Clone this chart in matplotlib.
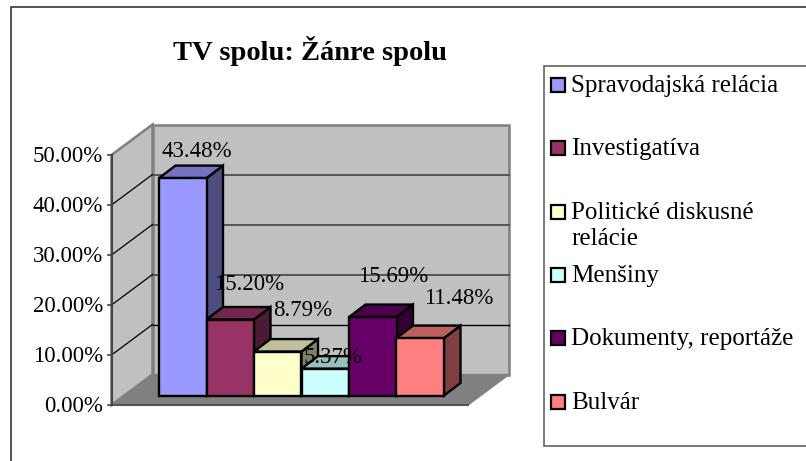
import matplotlib
matplotlib.use("Agg")
import matplotlib.pyplot as plt
from matplotlib.patches import Polygon, Rectangle

plt.rcParams['font.family'] = ['Liberation Serif', 'DejaVu Serif']

W, H = 806, 461

categories = ['Spravodajská relácia', 'Investigatíva', 'Politické diskusné\nrelácie',
              'Menšiny', 'Dokumenty, reportáže', 'Bulvár']
values = [43.48, 15.20, 8.79, 5.37, 15.69, 11.48]
labels = ['43.48%', '15.20%', '8.79%', '5.37%', '15.69%', '11.48%']
y_ticks = [0, 10, 20, 30, 40, 50]
y_tick_labels = ['0.00%', '10.00%', '20.00%', '30.00%', '40.00%', '50.00%']

front = ['#9999FF', '#993366', '#FFFFCC', '#CCFFFF', '#660066', '#FF8080']
top = ['#7373BF', '#73264D', '#BFBF99', '#99BFBF', '#4D004D', '#BF6060']
side = ['#4D4D80', '#4D1A33', '#808066', '#668080', '#330033', '#804040']

# pixel helper for things outside the plot
def px(x, y):
    return x / W, 1 - y / H

fig = plt.figure(figsize=(W / 100, H / 100), dpi=100, facecolor='white')

# the axes is the front plane of the 3d box: 111..468 px across, 405..155 px down
ax = fig.add_axes([111.5 / W, 1 - 405 / H, (468 - 111.5) / W, 250 / H])
ax.set_xlim(0, 356.5 / 47.5)
ax.set_ylim(0, 50)
ax.axis('off')

UX = 47.5          # px per bar
UY = 5.0           # px per percent
wall_dx, wall_dy = 41 / UX, 30.5 / UY
bar_dx, bar_dy = 16.5 / UX, 12.5 / UY
bar_x0 = (159 - 111.5) / UX
bar_base = (405 - 395.5) / UY
right = 356.5 / UX
GREY = '#808080'


def poly(pts, fc, ec, lw, z):
    ax.add_patch(Polygon(pts, closed=True, fc=fc, ec=ec, lw=lw, zorder=z, clip_on=False,
                         joinstyle='miter'))


# walls and floor
poly([(wall_dx, wall_dy), (right + wall_dx, wall_dy), (right + wall_dx, 50 + wall_dy), (wall_dx, 50 + wall_dy)],
     '#C0C0C0', GREY, 1.8, 1)
poly([(0, 0), (wall_dx, wall_dy), (wall_dx, 50 + wall_dy), (0, 50)], '#C0C0C0', GREY, 1.8, 1)

# gridlines
for t in y_ticks[1:]:
    if t < 50:
        dark = '#000000' if t == 10 else '#555555'
        w = 1.0 if t == 10 else 1.4
        ax.plot([wall_dx, right + wall_dx], [t + wall_dy, t + wall_dy], color=dark, lw=w, zorder=2, clip_on=False)
        ax.plot([0, wall_dx], [t, t + wall_dy], color='#000000', lw=0.9, zorder=2, clip_on=False)

poly([(0, 0), (right, 0), (right + wall_dx, wall_dy), (wall_dx, wall_dy)], GREY, GREY, 1.0, 3)
ax.plot([0, right], [0, 0], color='#555555', lw=1.5, zorder=3, clip_on=False)

# y axis
ax.plot([0, 0], [0, 50], color='#444444', lw=1.5, zorder=4, clip_on=False)
for t, lab in zip(y_ticks, y_tick_labels):
    ax.plot([-4 / UX, 0], [t, t], color='#444444', lw=1.2, zorder=4, clip_on=False)
    ax.text(-8.5 / UX, t - 0.3, lab, ha='right', va='center', fontsize=16.5, color='black', zorder=10)

# bars
for i, v in enumerate(values):
    x0 = bar_x0 + i
    x1 = x0 + 1
    y1 = bar_base + v
    z = 5 + i
    poly([(x1, bar_base), (x1 + bar_dx, bar_base + bar_dy), (x1 + bar_dx, y1 + bar_dy), (x1, y1)],
         side[i], 'black', 1.7, z)
    poly([(x0, y1), (x1, y1), (x1 + bar_dx, y1 + bar_dy), (x0 + bar_dx, y1 + bar_dy)],
         top[i], 'black', 1.7, z)
    ax.bar(x0, v, width=1, bottom=bar_base, align='edge', color=front[i], edgecolor='black', lw=1.7,
           zorder=z, clip_on=False)

# data labels, anchored a bit over the bar top
label_shift = [(0.80, 5.4), (0.90, 7.0), (1.02, 8.2), (0.66, 2.3), (0.94, 8.2), (1.30, 8.0)]
for i, (v, lab) in enumerate(zip(values, labels)):
    sx, sy = label_shift[i]
    ax.text(bar_x0 + i + sx, bar_base + v + sy, lab, ha='center', va='center', fontsize=16.5,
            color='black', zorder=20)

# outer frame and legend box
fig.add_artist(plt.Line2D([10.5 / W, 10.5 / W, 1], [0, 1 - 7.5 / H, 1 - 7.5 / H],
                          color='#333333', lw=1.2))
x, y = px(544, 446)
fig.add_artist(Rectangle((x, y), (806 - 544 + 5) / W, 380 / H, fc='white', ec='#555555', lw=1.1, zorder=3,
                         transform=fig.transFigure))

x, y = px(310, 51)
fig.text(x, y, 'TV spolu: Žánre spolu', ha='center', va='center', fontsize=20.5, fontweight='bold',
         color='black', zorder=6)

legend_y = [85, 148, 212, 275, 338, 402]
for name, c, ly in zip(categories, front, legend_y):
    x, y = px(551, ly + 7)
    fig.add_artist(Rectangle((x, y), 14 / W, 14 / H, fc=c, ec='black', lw=1.6, zorder=5,
                             transform=fig.transFigure))
    x, y = px(571, ly - 10)
    fig.text(x, y, name, ha='left', va='top', fontsize=18, color='black', zorder=6, linespacing=1.25)

fig.savefig('out.png', dpi=100)
